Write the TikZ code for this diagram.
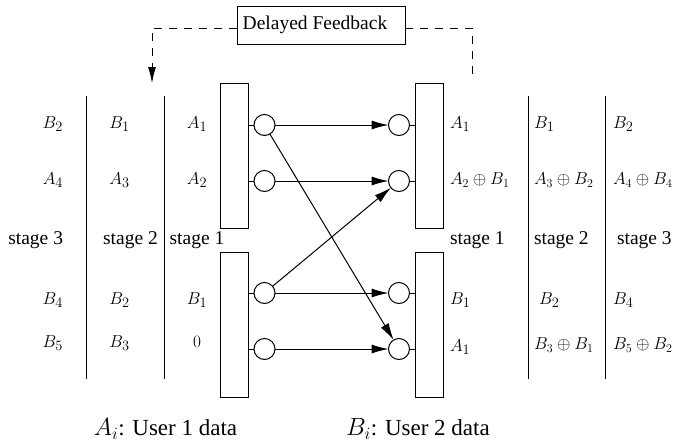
\documentclass[tikz,border=0pt]{standalone}
\usepackage{fontspec}
\setmainfont{Liberation Serif}
\usetikzlibrary{arrows.meta}
\begin{document}
\begin{tikzpicture}[x=1pt,y=-1pt,
  every node/.style={inner sep=0pt, outer sep=0pt},
  txt/.style={font=\fontsize{19.5}{23}\selectfont},
  mth/.style={font=\fontsize{19}{23}\selectfont},
  xr/.style={font=\fontsize{17}{20}\selectfont},
  captxt/.style={font=\fontsize{23}{27}\selectfont},
  blk/.style={draw, line width=1pt, minimum width=28pt, minimum height=145pt},
  crc/.style={draw, circle, line width=1pt, minimum size=21pt},
  sep/.style={line width=1pt},
  arr/.style={line width=1pt, -{Latex[length=17pt,width=9pt]}},
  fbline/.style={line width=1pt, dash pattern=on 8pt off 7pt},
]
\useasboundingbox (0,0) rectangle (673,445);

% feedback
\node[draw, line width=1pt, txt, minimum width=168pt, minimum height=38pt] (fb) at (321,25) {Delayed Feedback\hspace*{12pt}};
\coordinate (fbl) at (152,28);
\coordinate (fbld) at (152,83);
\coordinate (fbr) at (472,28);
\coordinate (fbrd) at (472,77);
\draw[fbline, -{Latex[length=16pt,width=8pt]}] (fb.west |- fbl) -- (fbl) -- (fbld);
\draw[fbline] (fb.east |- fbr) -- (fbr) -- (fbrd);

% blocks
\node[blk] (lt) at (234,155.5) {};
\node[blk] (lb) at (234,324.5) {};
\node[blk] (rt) at (429,155.5) {};
\node[blk] (rb) at (429,324.5) {};

% circles
\node[crc] (l1) at (264.5,125) {};
\node[crc] (l2) at (264.5,181) {};
\node[crc] (l3) at (264.5,293) {};
\node[crc] (l4) at (264.5,349) {};
\node[crc] (r1) at (399,125) {};
\node[crc] (r2) at (399,181) {};
\node[crc] (r3) at (399,293) {};
\node[crc] (r4) at (399,349) {};

% ticks
\draw[sep] (lt.east |- l1) -- (l1.west);
\draw[sep] (lt.east |- l2) -- (l2.west);
\draw[sep] (lb.east |- l3) -- (l3.west);
\draw[sep] (lb.east |- l4) -- (l4.west);
\draw[sep] (r1.east) -- (rt.west |- r1);
\draw[sep] (r2.east) -- (rt.west |- r2);
\draw[sep] (r3.east) -- (rb.west |- r3);
\draw[sep] (r4.east) -- (rb.west |- r4);

% arrows
\draw[arr] (l1) -- (r1);
\draw[arr] (l1) -- (r4);
\draw[arr] (l2) -- (r2);
\draw[arr] (l3) -- (r2);
\draw[arr] (l3) -- (r3);
\draw[arr] (l4) -- (r4);

% separators
\coordinate (s1t) at (86,96);  \coordinate (s1b) at (86,379);
\coordinate (s2t) at (164,96); \coordinate (s2b) at (164,379);
\coordinate (s3t) at (528,96); \coordinate (s3b) at (528,379);
\coordinate (s4t) at (605,96); \coordinate (s4b) at (605,379);
\draw[sep] (s1t) -- (s1b);
\draw[sep] (s2t) -- (s2b);
\draw[sep] (s3t) -- (s3b);
\draw[sep] (s4t) -- (s4b);

% left labels
\node[mth, anchor=east] (a31) at (63,124) {$B_2$};
\node[mth, anchor=east] (a32) at (63,180) {$A_4$};
\node[txt, anchor=east] (a33) at (63,240) {stage 3};
\node[mth, anchor=east] (a34) at (63,300) {$B_4$};
\node[mth, anchor=east] (a35) at (63,343) {$B_5$};

\node[mth] (a21) at (119.5,124) {$B_1$};
\node[mth] (a22) at (119.5,180) {$A_3$};
\node[txt] (a23) at (130.5,240) {stage 2};
\node[mth] (a24) at (119.5,300) {$B_2$};
\node[mth] (a25) at (119.5,343) {$B_3$};

\node[mth] (a11) at (197,124) {$A_1$};
\node[mth] (a12) at (197,180) {$A_2$};
\node[txt] (a13) at (197,240) {stage 1};
\node[mth] (a14) at (197,300) {$B_1$};
\node[mth] (a15) at (197,342) {$0$};

% right labels
\node[mth, anchor=west] (b11) at (450,124) {$A_1$};
\node[xr, anchor=west] (b12) at (450,180) {$A_2\oplus B_1$};
\node[txt, anchor=west] (b13) at (450,240) {stage 1};
\node[mth, anchor=west] (b14) at (450,300) {$B_1$};
\node[mth, anchor=west] (b15) at (450,347) {$A_1$};

\node[mth, anchor=west] (b21) at (534,124) {$B_1$};
\node[xr, anchor=west] (b22) at (534,180) {$A_3\oplus B_2$};
\node[txt, anchor=west] (b23) at (534,240) {stage 2};
\node[mth, anchor=west] (b24) at (539,300) {$B_2$};
\node[xr, anchor=west] (b25) at (534,345) {$B_3\oplus B_1$};

\node[mth, anchor=west] (b31) at (613,124) {$B_2$};
\node[xr, anchor=west] (b32) at (613,180) {$A_4\oplus B_4$};
\node[txt, anchor=west] (b33) at (617,240) {stage 3};
\node[mth, anchor=west] (b34) at (613,300) {$B_4$};
\node[xr, anchor=west] (b35) at (613,345) {$B_5\oplus B_2$};

% captions
\node[captxt] (c1) at (165.5,429) {$A_i$: User 1 data};
\node[captxt] (c2) at (418,429) {$B_i$: User 2 data};
\end{tikzpicture}
\end{document}
